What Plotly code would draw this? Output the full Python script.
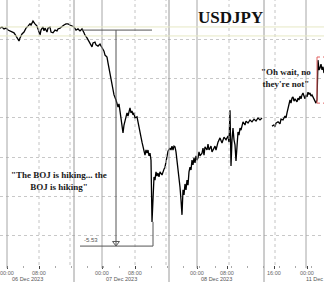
import plotly.graph_objects as go

# 15-minute bar index from 00:00 06 Dec 2023 (Bloomberg-style compressed session axis)
bar = [-7, -5, -3, -1, 1, 3, 5, 7, 9, 11, 12, 13, 15, 17, 19, 21, 23, 24, 26, 28, 30, 31, 33, 34, 36, 37, 38, 40, 41, 43,
       44, 46, 48, 50, 51, 53, 55, 57, 59, 61, 63, 65, 67, 69, 71, 73, 75,
       77, 78, 80, 81, 83, 85, 86, 88, 89, 91, 93, 95, 97, 98, 100, 101, 103, 104, 106, 107, 109, 110, 111, 112, 113, 114,
       115, 116, 117, 118, 120, 121, 122, 123, 124, 125, 126, 127, 128, 130, 131, 132, 133, 134, 135, 136, 137, 138, 139,
       140, 141, 142, 143, 144, 145, 146, 147, 148, 149, 150, 151, 152, 153, 155, 156, 157, 158, 159, 160, 161, 163, 164,
       165, 166, 167, 168, 169, 170, 171, 172, 173, 174, 175, 176, 177, 178, 179, 180, 181, 182, 183, 184, 185, 186, 187,
       188, 189, 190, 191, 192, 193, 195, 196, 197, 198, 200, 201, 202, 204, 205, 207, 208, 209, 211, 213, 215, 217, 219,
       221, 222, 223, 224, 225, 226, 227, 228, 229, 230, 231, 232, 233, 234, 235, 236, 238, 239, 241, 243, 245, 247, 249,
       251, 253, 255, 260,
       265, 267, 268, 269, 271, 273, 274, 276, 278, 279, 280, 281, 282, 283, 284, 285, 286, 287, 288, 290, 291, 292, 293,
       294, 295, 296, 297, 298, 299, 300, 301, 302, 303, 304, 305, 306, 307, 308, 309, 310, 311, 312, 313, 314, 315, 316, 317]

usdjpy = [147.30, 147.33, 147.28, 147.30, 147.25, 147.23, 147.20, 147.18, 147.10, 147.02, 146.97, 147.05, 147.15, 147.20,
          147.30, 147.35, 147.41, 147.38, 147.48, 147.41, 147.35, 147.28, 147.12, 147.25, 147.33, 147.23, 147.30, 147.20,
          147.30, 147.33, 147.20, 147.18, 147.25, 147.23, 147.28, 147.30, 147.35, 147.38, 147.41, 147.41, 147.38, 147.35,
          147.33, 147.25, 147.28, 147.23, 147.28,
          147.18, 147.12, 147.05, 147.00, 146.89, 146.82, 146.92, 146.94, 146.87, 146.84, 146.89, 146.79, 146.71, 146.61,
          146.56, 146.41, 146.15, 146.02, 145.72, 145.59, 145.46, 145.36, 145.28, 145.36, 145.15, 145.00,
          144.77, 144.62, 144.82, 144.95, 145.13, 145.05, 145.20, 145.26, 145.13, 145.18, 145.08, 145.13, 145.00, 145.03,
          144.90, 144.79, 144.69, 144.51, 144.38, 144.26, 144.13, 144.05, 144.18,
          144.10, 144.18, 144.03, 144.10, 143.92, 142.34, 143.16, 143.49, 143.41, 143.62, 143.51, 143.59, 143.49, 143.62,
          143.54, 143.64, 143.69, 143.74, 143.92, 144.05, 144.15, 144.23, 144.18,
          144.28, 144.18, 144.28, 144.26, 144.13, 143.92, 143.59, 143.41, 143.23, 142.90, 142.52, 143.16, 143.03, 143.31,
          143.16, 143.41, 143.28, 143.62, 143.74, 143.67, 143.92, 143.80, 143.98,
          143.85, 144.03, 143.92, 143.98, 144.13, 144.03, 144.10, 144.23, 144.05, 144.26, 144.18, 144.33, 144.18, 144.28,
          144.13, 144.23, 144.28, 144.18, 144.38, 144.49, 144.36, 144.51, 144.44,
          144.54, 144.38, 145.20, 143.77, 144.44, 144.74, 144.44, 144.31, 143.90, 144.44, 144.64, 144.56, 144.74, 144.69,
          144.85, 144.90, 144.82, 144.92, 144.87, 144.95, 144.90, 144.97, 144.92,
          145.00, 144.95, 145.00, None,
          144.79, 144.82, 144.77, 144.87, 144.90, 144.85, 144.97, 144.95, 145.05, 145.00, 145.13, 145.26, 145.36, 145.46,
          145.38, 145.51, 145.54, 145.43, 145.49, 145.41, 145.51, 145.46, 145.56,
          145.49, 145.59, 145.64, 145.56, 145.49, 145.59, 145.54, 145.66, 145.61, 145.64, 145.56, 145.59, 145.54, 145.46,
          145.43, 145.38, 145.46, 146.48, 146.23, 146.28, 146.38, 146.23, 146.31, 146.15]

tick_bars = [0, 32, 95, 128, 190, 220, 267, 300]
tick_text = ["00:00", "08:00", "00:00", "08:00", "00:00", "08:00", "16:00", "00:00"]
date_bars = [20, 114, 209, 297]
date_text = ["06 Dec 2023", "07 Dec 2023", "08 Dec 2023", "11 Dec 2023"]
day_sep_bars = [67, 162, 257]
midnight_bars = [0, 95, 190, 299]
dotted_bars = [32, 63, 128, 159, 222, 268]
grid_prices = [142, 143, 144, 145, 146, 147]

# measure tool: drop from pre-headline level to the low
measure_start = 147.25
measure_end = 141.72
measure_text = "-5.53"
measure_x0, measure_x1, measure_mid = 75, 145, 109
low_bar = 146
low_price = 142.34
# reversal box
rev_bar = 310
rev_low, rev_high = 145.38, 146.56
band_prices = [147.33, 147.10]

fig = go.Figure()
fig.add_trace(go.Scatter(x=bar, y=usdjpy, mode="lines", connectgaps=False,
                         line=dict(color="#000000", width=1.3), hoverinfo="skip"))

shapes = []
for b in day_sep_bars:
    shapes.append(dict(type="line", xref="x", yref="paper", x0=b, x1=b, y0=-0.07, y1=1,
                       line=dict(color="#9a9a9a", width=1)))
for b in midnight_bars:
    shapes.append(dict(type="line", xref="x", yref="paper", x0=b, x1=b, y0=-0.012, y1=1,
                       line=dict(color="#a6a6a6", width=1)))
for b in dotted_bars:
    shapes.append(dict(type="line", xref="x", yref="paper", x0=b, x1=b, y0=0, y1=1,
                       line=dict(color="#c4c4c4", width=1, dash="dot")))
for p in band_prices:
    shapes.append(dict(type="line", xref="paper", yref="y", x0=0, x1=1, y0=p, y1=p,
                       line=dict(color="#e6e8c4", width=1)))
# measure lines
mc = "#555555"
shapes += [
    dict(type="line", xref="x", yref="y", x0=measure_x0, x1=measure_x1, y0=measure_start, y1=measure_start,
         line=dict(color=mc, width=1)),
    dict(type="line", xref="x", yref="y", x0=measure_mid, x1=measure_mid, y0=measure_start, y1=measure_end,
         line=dict(color=mc, width=1)),
    dict(type="line", xref="x", yref="y", x0=measure_x0 - 2, x1=low_bar, y0=measure_end, y1=measure_end,
         line=dict(color=mc, width=1)),
    dict(type="line", xref="x", yref="y", x0=low_bar, x1=low_bar, y0=low_price, y1=measure_end,
         line=dict(color=mc, width=1)),
]
rc = "#e06060"
shapes += [
    dict(type="line", xref="x", yref="y", x0=rev_bar, x1=rev_bar, y0=rev_low, y1=rev_high,
         line=dict(color=rc, width=1)),
    dict(type="line", xref="x", yref="y", x0=rev_bar, x1=320, y0=rev_high, y1=rev_high,
         line=dict(color=rc, width=1, dash="dot")),
    dict(type="line", xref="x", yref="y", x0=rev_bar, x1=320, y0=rev_low, y1=rev_low,
         line=dict(color=rc, width=1, dash="dot")),
]

fig.add_trace(go.Scatter(x=[measure_mid], y=[measure_end + 0.08], mode="markers",
                         marker=dict(symbol="triangle-down-open", size=6, color=mc, line=dict(width=1, color=mc)),
                         hoverinfo="skip"))

ann = []
ann.append(dict(x=223, y=147.58, xref="x", yref="y", text="<b>USDJPY</b>", showarrow=False,
                font=dict(family="Liberation Serif", size=17, color="#111111")))
ann.append(dict(x=52, y=143.39, xref="x", yref="y", text="<b>\"The BOJ is hiking... the<br>BOJ is hiking\"</b>",
                showarrow=False, font=dict(family="Liberation Serif", size=9, color="#1a1a1a")))
ann.append(dict(x=279, y=146.02, xref="x", yref="y", text="<b>\"Oh wait, no<br>they're not\"</b>",
                showarrow=False, font=dict(family="Liberation Serif", size=9, color="#1a1a1a")))
ann.append(dict(x=measure_x0, y=measure_end + 0.02, xref="x", yref="y", text=measure_text, showarrow=False,
                xanchor="left", yanchor="bottom", font=dict(family="Liberation Sans", size=6, color="#555555")))
for b, t in zip(tick_bars, tick_text):
    ann.append(dict(x=b, y=-0.030, xref="x", yref="paper", text=t, showarrow=False, yanchor="middle",
                    font=dict(family="Liberation Sans", size=5.5, color="#666666")))
for i, (b, t) in enumerate(zip(date_bars, date_text)):
    ann.append(dict(x=b, y=-0.051, xref="x", yref="paper", text=t, showarrow=False, yanchor="middle",
                    xanchor="left" if i == 3 else "center",
                    font=dict(family="Liberation Sans", size=5.5, color="#555555")))

fig.update_layout(
    width=324, height=282, margin=dict(l=0, r=0, t=0, b=17),
    paper_bgcolor="white", plot_bgcolor="white", showlegend=False,
    shapes=shapes, annotations=ann,
    xaxis=dict(range=[-7, 317], showgrid=False, zeroline=False, showticklabels=False,
               tickvals=tick_bars, ticks="outside", ticklen=3, tickcolor="#444444",
               minor=dict(dtick=16, tick0=0, ticks="outside", ticklen=2, tickcolor="#aaaaaa")),
    yaxis=dict(range=[141.236, 148.02], showgrid=True, gridcolor="#c8c8c8", griddash="dot",
               tickvals=grid_prices, showticklabels=False, zeroline=False),
)
fig.write_html("out.html")
